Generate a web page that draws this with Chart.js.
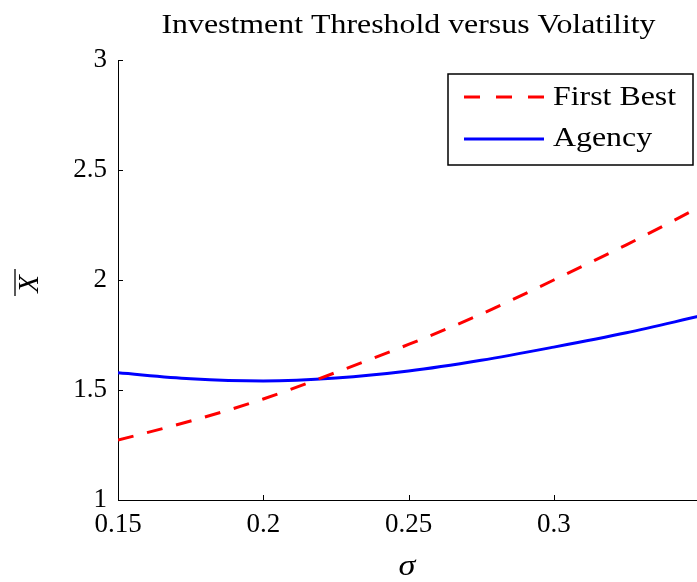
<!DOCTYPE html>
<html>
<head>
<meta charset="utf-8">
<script src="https://cdn.jsdelivr.net/npm/chart.js@4/dist/chart.umd.min.js"></script>
<style>
  html, body { margin: 0; padding: 0; background: #fff; overflow: hidden; }
  #wrap { width: 700px; height: 582px; }
</style>
</head>
<body>
<div id="wrap"><canvas id="c"></canvas></div>
<script>
// Volatility grid and the two investment thresholds
const sigma     = [0.15, 0.175, 0.2, 0.225, 0.25, 0.275, 0.3, 0.325, 0.35];
const firstBest = [1.272, 1.359, 1.459, 1.58, 1.707, 1.845, 2.0, 2.16, 2.33];
const agency    = [1.578, 1.551, 1.541, 1.554, 1.586, 1.635, 1.695, 1.76, 1.835];

const xTicks = [0.15, 0.2, 0.25, 0.3];
const yTicks = [1, 1.5, 2, 2.5, 3];
const seriesNames = ['First Best', 'Agency'];
const chartTitle = 'Investment Threshold versus Volatility';
const xTitle = 'σ';
const yTitle = 'X';

const SERIF = '"Liberation Serif", "Times New Roman", serif';
const STRETCH = 1.18; // widen the serif glyphs a little

const toPoints = ys => sigma.map((s, i) => ({ x: s, y: ys[i] }));

// draws text horizontally widened by STRETCH
function wideText(ctx, text, x, y, align) {
  ctx.save();
  ctx.translate(x, y);
  ctx.scale(STRETCH, 1);
  ctx.textAlign = align;
  ctx.textBaseline = 'alphabetic';
  ctx.fillText(text, 0, 0);
  ctx.restore();
}

// Title, inward tick marks, boxed legend and axis titles
const decorations = {
  id: 'decorations',
  afterDatasetsDraw(chart) {
    const { ctx, chartArea: a, scales: { x, y } } = chart;
    ctx.save();
    ctx.fillStyle = '#000';
    ctx.strokeStyle = '#000';

    // title, centred over the plot area
    ctx.font = '27px ' + SERIF;
    wideText(ctx, chartTitle, (a.left + a.right) / 2, 33, 'center');

    // inward ticks
    ctx.lineWidth = 1;
    ctx.beginPath();
    yTicks.forEach(v => {
      const py = Math.round(y.getPixelForValue(v)) + 0.5;
      ctx.moveTo(a.left, py); ctx.lineTo(a.left + 5, py);
    });
    xTicks.forEach(v => {
      const px = Math.round(x.getPixelForValue(v)) + 0.5;
      ctx.moveTo(px, a.bottom); ctx.lineTo(px, a.bottom - 5);
    });
    ctx.stroke();

    // legend
    const bx = 448, by = 74, bw = 245, bh = 91;
    ctx.fillStyle = '#fff';
    ctx.fillRect(bx, by, bw, bh);
    ctx.lineWidth = 1.5;
    ctx.strokeRect(bx, by, bw, bh);
    const rows = [{ line: 97, base: 105 }, { line: 139, base: 146 }];
    chart.data.datasets.forEach((ds, i) => {
      ctx.beginPath();
      ctx.strokeStyle = ds.borderColor;
      ctx.lineWidth = ds.borderWidth;
      ctx.setLineDash(ds.borderDash ? [16, 16] : []);
      ctx.moveTo(464, rows[i].line); ctx.lineTo(544, rows[i].line);
      ctx.stroke();
      ctx.setLineDash([]);
      ctx.fillStyle = '#000';
      ctx.font = '27px ' + SERIF;
      wideText(ctx, ds.label, 553, rows[i].base, 'left');
    });

    // x axis title
    ctx.font = 'italic 29px ' + SERIF;
    ctx.fillStyle = '#000';
    wideText(ctx, xTitle, 407, 575, 'center');

    // y axis title: X with an overbar, rotated
    ctx.translate(28, 284);
    ctx.rotate(-Math.PI / 2);
    ctx.font = 'italic 29px ' + SERIF;
    ctx.textAlign = 'center';
    ctx.textBaseline = 'alphabetic';
    ctx.fillText(yTitle, 0, 10);
    ctx.beginPath();
    ctx.lineWidth = 1.3;
    ctx.strokeStyle = '#000';
    ctx.moveTo(-12, -13); ctx.lineTo(15, -13);
    ctx.stroke();
    ctx.restore();
  }
};

new Chart(document.getElementById('c'), {
  type: 'line',
  data: {
    datasets: [
      {
        label: seriesNames[0],
        data: toPoints(firstBest),
        borderColor: '#ff0000',
        borderWidth: 3,
        borderDash: [16, 14],
        pointRadius: 0,
        cubicInterpolationMode: 'monotone',
        fill: false
      },
      {
        label: seriesNames[1],
        data: toPoints(agency),
        borderColor: '#0000ff',
        borderWidth: 3,
        pointRadius: 0,
        cubicInterpolationMode: 'monotone',
        fill: false
      }
    ]
  },
  options: {
    responsive: true,
    maintainAspectRatio: false,
    animation: false,
    layout: { padding: { top: 60, right: 1, bottom: 0, left: 0 } },
    plugins: {
      legend: { display: false },
      tooltip: { enabled: false },
      title: { display: false }
    },
    scales: {
      x: {
        type: 'linear',
        min: 0.15,
        max: 0.35,
        afterBuildTicks: s => { s.ticks = xTicks.map(v => ({ value: v })); },
        afterFit: s => { s.height = 82; },
        grid: { drawOnChartArea: false, drawTicks: false },
        border: { display: true, color: '#000', width: 1 },
        ticks: {
          color: '#000',
          padding: 9,
          maxRotation: 0,
          font: { family: SERIF, size: 27 },
          callback: v => String(v)
        }
      },
      y: {
        min: 1,
        max: 3,
        afterBuildTicks: s => { s.ticks = yTicks.map(v => ({ value: v })); },
        afterFit: s => { s.width = 118; },
        grid: { drawOnChartArea: false, drawTicks: false },
        border: { display: true, color: '#000', width: 1 },
        ticks: {
          color: '#000',
          padding: 11,
          font: { family: SERIF, size: 27 },
          callback: v => String(v)
        }
      }
    }
  },
  plugins: [decorations]
});
</script>
</body>
</html>
